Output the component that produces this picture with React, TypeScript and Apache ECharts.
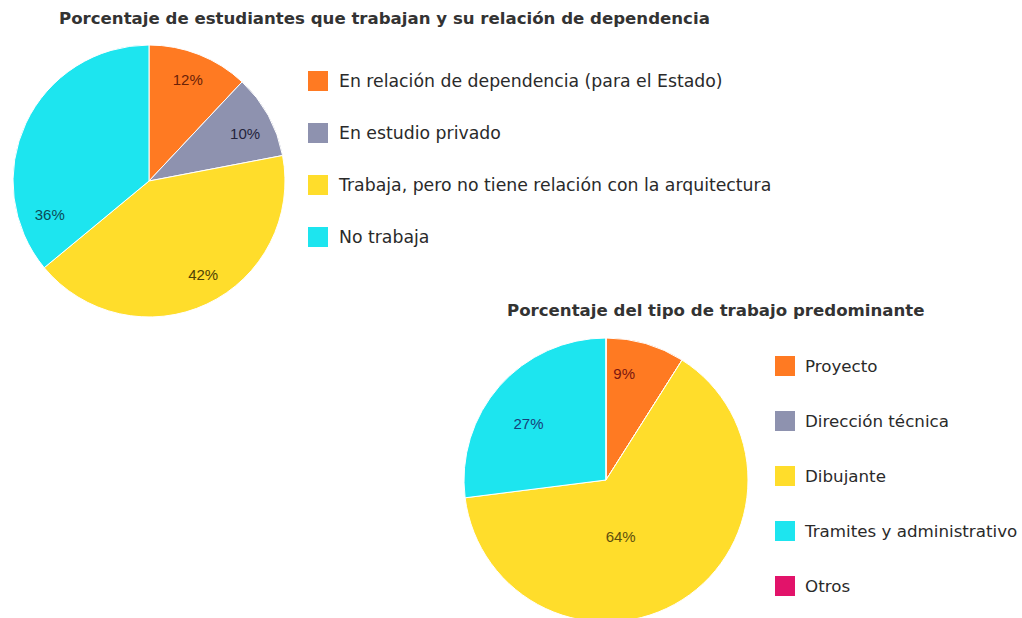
import React, { useEffect, useRef } from "react";
import * as echarts from "echarts";

const TITLE_1 = "Porcentaje de estudiantes que trabajan y su relación de dependencia";
const TITLE_2 = "Porcentaje del tipo de trabajo predominante";

const CATEGORIES_1 = [
  "En relación de dependencia (para el Estado)",
  "En estudio privado",
  "Trabaja, pero no tiene relación con la arquitectura",
  "No trabaja",
];
const VALUES_1 = [12, 10, 42, 36];

const CATEGORIES_2 = [
  "Proyecto",
  "Dirección técnica",
  "Dibujante",
  "Tramites y administrativo",
  "Otros",
];
const VALUES_2 = [9, 0, 64, 27, 0];

const COLORS_1 = ["#FF7A22", "#8E92AF", "#FFDD2B", "#1DE5EF"];
const COLORS_2 = ["#FF7A22", "#8E92AF", "#FFDD2B", "#1DE5EF", "#E2136A"];
const LABEL_COLORS_1 = ["#6A2208", "#24243C", "#4E4206", "#0B4C58"];
const LABEL_COLORS_2 = ["#7A1610", "#24243C", "#5E500E", "#173F7A", "#000000"];

// label placement style (radius factor relative to default inside position, plus nudges)
const LABEL_FACTORS_1 = [1.56, 1.56, 1.56, 1];
const LABEL_NUDGE_1 = [[-2, 1], [-1, 6], [7, -7], [-35, 64]];
const LABEL_FACTORS_2 = [1.46, 1, 1, 1.36, 1];
const LABEL_NUDGE_2 = [[-12, -3], [0, 0], [-25, -6], [-2, 10], [0, 0]];

const PIE_1 = { cx: 149, cy: 181, r: 136 };
const PIE_2 = { cx: 606, cy: 480, r: 142 };

const FONT = "DejaVu Sans";
const LABEL_FONT = "Liberation Sans";

function makeLabelLayout(cx: number, cy: number, factors: number[], nudges: number[][]) {
  return (p: any) => {
    const lr = p.labelRect;
    const lx = lr.x + lr.width / 2;
    const ly = lr.y + lr.height / 2;
    const k = factors[p.dataIndex] ?? 1;
    const n = nudges[p.dataIndex] ?? [0, 0];
    return {
      x: cx + (lx - cx) * k + n[0],
      y: cy + (ly - cy) * k + n[1],
      align: "center",
      verticalAlign: "middle",
    };
  };
}

function buildData(cats: string[], vals: number[], colors: string[], labelColors: string[]) {
  return cats.map((name, i) => ({
    name,
    value: vals[i],
    itemStyle: { color: colors[i] },
    label: { color: labelColors[i] },
  }));
}

export default function App() {
  const ref = useRef<HTMLDivElement>(null);

  useEffect(() => {
    if (!ref.current) return;
    const chart = echarts.init(ref.current, null, { renderer: "svg" });
    const labelCommon = {
      show: true,
      position: "inside",
      fontFamily: LABEL_FONT,
      fontSize: 15,
      formatter: (p: any) => (p.value ? `${p.value}%` : ""),
    };
    const legendCommon = {
      orient: "vertical",
      icon: "rect",
      itemWidth: 20,
      itemHeight: 20,
      itemStyle: { borderWidth: 0 },
      selectedMode: false,
    };
    chart.setOption({
      animation: false,
      backgroundColor: "#ffffff",
      title: [
        {
          text: TITLE_1,
          left: 54,
          top: 5,
          textStyle: { fontFamily: FONT, fontWeight: "bold", fontSize: 16.6, color: "#333333" },
        },
        {
          text: TITLE_2,
          left: 502,
          top: 297,
          textStyle: { fontFamily: FONT, fontWeight: "bold", fontSize: 16.6, color: "#333333" },
        },
      ],
      legend: [
        {
          ...legendCommon,
          left: 303,
          top: 66,
          itemGap: 32,
          data: CATEGORIES_1,
          textStyle: { fontFamily: FONT, fontSize: 17.3, color: "#2a2a2a", padding: [0, 0, 0, 6] },
        },
        {
          ...legendCommon,
          left: 770,
          top: 351,
          itemGap: 35,
          data: CATEGORIES_2,
          textStyle: { fontFamily: FONT, fontSize: 16.7, color: "#2a2a2a", padding: [0, 0, 0, 5] },
        },
      ],
      series: [
        {
          type: "pie",
          center: [PIE_1.cx, PIE_1.cy],
          radius: PIE_1.r,
          startAngle: 90,
          clockwise: true,
          itemStyle: { borderColor: "#ffffff", borderWidth: 1 },
          label: labelCommon,
          labelLine: { show: false },
          labelLayout: makeLabelLayout(PIE_1.cx, PIE_1.cy, LABEL_FACTORS_1, LABEL_NUDGE_1),
          emphasis: { disabled: true },
          data: buildData(CATEGORIES_1, VALUES_1, COLORS_1, LABEL_COLORS_1),
        },
        {
          type: "pie",
          center: [PIE_2.cx, PIE_2.cy],
          radius: PIE_2.r,
          startAngle: 90,
          clockwise: true,
          itemStyle: { borderColor: "#ffffff", borderWidth: 1 },
          label: labelCommon,
          labelLine: { show: false },
          labelLayout: makeLabelLayout(PIE_2.cx, PIE_2.cy, LABEL_FACTORS_2, LABEL_NUDGE_2),
          emphasis: { disabled: true },
          data: buildData(CATEGORIES_2, VALUES_2, COLORS_2, LABEL_COLORS_2),
        },
      ],
    });
    return () => chart.dispose();
  }, []);

  return (
    <div
      ref={ref}
      style={{ position: "fixed", left: 0, top: 0, width: 1022, height: 618, background: "#fff" }}
    />
  );
}
